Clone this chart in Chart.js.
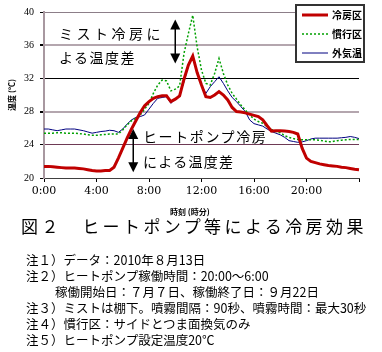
<!DOCTYPE html>
<html lang="ja">
<head>
<meta charset="utf-8">
<title>図２ ヒートポンプ等による冷房効果</title>
<script src="https://cdn.jsdelivr.net/npm/chart.js@4.4.0/dist/chart.umd.min.js"></script>
<style>
  body { margin: 0; background: #fff; }
  #wrap { position: relative; width: 382px; height: 352px; overflow: hidden;
          font-family: "Noto Sans CJK JP", sans-serif; color: #000; }
  #chart { position: absolute; left: 0; top: 0; }
  .ann { position: absolute; font-size: 14px; line-height: 16px; white-space: nowrap; }
  #xtitle { position: absolute; left: 170px; top: 206px; font-size: 8px; font-weight: bold; line-height: 12px; white-space: nowrap; }
  #figtitle { position: absolute; left: 21px; top: 216px; font-size: 17px; line-height: 20px; letter-spacing: 3.4px; white-space: nowrap; }
  #notes { position: absolute; left: 26px; top: 252px; font-size: 12.5px; line-height: 16px; white-space: nowrap; }
  #notes .indent { padding-left: 29px; }
</style>
</head>
<body>
<div id="wrap">
  <canvas id="chart" width="382" height="200"></canvas>
  <div class="ann" style="left:59px;top:25px;letter-spacing:3.5px">ミスト冷房に</div>
  <div class="ann" style="left:59px;top:49px;letter-spacing:1.5px">よる温度差</div>
  <div class="ann" style="left:143px;top:128px;letter-spacing:1.6px">ヒートポンプ冷房</div>
  <div class="ann" style="left:143px;top:153px;letter-spacing:1.3px">による温度差</div>
  <div id="xtitle">時刻 (時分)</div>
  <div id="figtitle">図２　ヒートポンプ等による冷房効果</div>
  <div id="notes">
    <div>注１）データ：2010年８月13日</div>
    <div>注２）ヒートポンプ稼働時間：20:00～6:00</div>
    <div class="indent">稼働開始日：７月７日、稼働終了日：９月22日</div>
    <div>注３）ミストは棚下。噴霧間隔：90秒、噴霧時間：最大30秒</div>
    <div>注４）慣行区：サイドとつま面換気のみ</div>
    <div>注５）ヒートポンプ設定温度20℃</div>
  </div>
</div>
<script>
// 20分ごとの時刻
const times = [
  '0:00','0:20','0:40','1:00','1:20','1:40','2:00','2:20','2:40','3:00','3:20','3:40',
  '4:00','4:20','4:40','5:00','5:20','5:40','6:00','6:20','6:40','7:00','7:20','7:40',
  '8:00','8:20','8:40','9:00','9:20','9:40','10:00','10:20','10:40','11:00','11:20','11:40',
  '12:00','12:20','12:40','13:00','13:20','13:40','14:00','14:20','14:40','15:00','15:20','15:40',
  '16:00','16:20','16:40','17:00','17:20','17:40','18:00','18:20','18:40','19:00','19:20','19:40',
  '20:00','20:20','20:40','21:00','21:20','21:40','22:00','22:20','22:40','23:00','23:20','23:40',
  '24:00'
];

// 冷房区
const reiboTemp = [
  21.4,21.4,21.35,21.3,21.25,21.2,21.2,21.2,21.15,21.1,21.0,20.9,
  20.85,20.85,20.9,20.9,21.3,22.4,23.6,24.8,25.9,26.9,27.9,28.7,
  29.2,29.6,29.8,29.9,29.9,29.2,29.5,29.9,31.9,33.6,34.7,32.7,
  31.2,29.8,29.7,30.0,30.4,30.0,29.4,28.5,28.0,27.95,27.85,27.7,
  27.55,27.4,27.0,26.3,25.65,25.7,25.7,25.65,25.6,25.5,25.3,23.6,
  22.4,22.0,21.85,21.7,21.6,21.5,21.45,21.4,21.3,21.25,21.15,21.05,
  21.0
];

// 慣行区
const kankoTemp = [
  25.4,25.4,25.4,25.45,25.45,25.4,25.4,25.4,25.35,25.3,25.2,25.15,
  25.15,25.2,25.25,25.3,25.3,25.3,25.8,26.4,26.9,27.2,27.6,28.3,
  29.0,30.2,31.2,31.8,31.7,30.5,30.7,31.1,35.0,37.4,39.6,35.8,
  33.0,31.4,31.2,32.6,34.4,32.6,31.2,30.2,29.5,28.8,28.2,27.6,
  27.1,26.8,26.6,26.2,25.85,25.6,25.45,25.1,24.9,24.75,24.65,24.6,
  24.6,24.6,24.6,24.55,24.45,24.35,24.4,24.5,24.55,24.6,24.65,24.65,
  24.65
];

// 外気温
const gaikiTemp = [
  25.9,25.9,25.8,25.7,25.8,25.9,25.9,25.9,25.8,25.7,25.55,25.4,
  25.5,25.6,25.65,25.75,25.7,25.5,25.9,26.5,27.0,27.3,27.4,27.6,
  28.3,29.0,29.6,29.7,29.8,29.0,29.5,30.0,31.6,33.5,34.7,32.7,
  31.2,30.2,31.0,31.6,32.2,31.4,30.5,29.7,29.2,28.6,28.0,27.0,
  26.55,26.4,26.25,25.9,25.6,25.4,25.2,24.9,24.5,24.4,24.3,24.35,
  24.5,24.7,24.8,24.8,24.8,24.8,24.8,24.8,24.85,24.9,25.0,24.9,
  24.75
];

const yTicks = [20, 24, 28, 32, 36, 40];

// 温度差の矢印（時刻[時], 上端, 下端）
const arrows = [
  { hour: 10.0, from: 39.1, to: 33.8 },
  { hour: 6.8, from: 25.9, to: 20.7 }
];

// 横線の見た目
const gridStyle = {
  20: { color: 'rgba(0,0,0,0)', width: 1 },
  24: { color: '#6e3a55', width: 1 },
  28: { color: '#b4a6ae', width: 2 },
  32: { color: '#000000', width: 1 },
  36: { color: '#b4a6ae', width: 2 },
  40: { color: '#8c7e88', width: 1 }
};

const arrowPlugin = {
  id: 'arrows',
  afterDatasetsDraw(chart) {
    const { ctx, scales: { x, y } } = chart;
    ctx.save();
    ctx.strokeStyle = '#000';
    ctx.fillStyle = '#000';
    ctx.lineWidth = 1.5;
    arrows.forEach(a => {
      const px = x.getPixelForValue(a.hour * 3);
      const top = y.getPixelForValue(a.from);
      const bot = y.getPixelForValue(a.to);
      ctx.beginPath();
      ctx.moveTo(px, top + 8);
      ctx.lineTo(px, bot - 8);
      ctx.stroke();
      ctx.beginPath();
      ctx.moveTo(px, top);
      ctx.lineTo(px - 5, top + 10);
      ctx.lineTo(px + 5, top + 10);
      ctx.closePath();
      ctx.fill();
      ctx.beginPath();
      ctx.moveTo(px, bot);
      ctx.lineTo(px - 5, bot - 10);
      ctx.lineTo(px + 5, bot - 10);
      ctx.closePath();
      ctx.fill();
    });
    ctx.restore();
  }
};

const boxLegend = {
  id: 'boxLegend',
  afterDraw(chart) {
    const ctx = chart.ctx;
    ctx.save();
    ctx.fillStyle = '#fff';
    ctx.fillRect(296, 5, 68, 57);
    ctx.strokeStyle = '#333';
    ctx.lineWidth = 2;
    ctx.strokeRect(296, 5, 68, 57);
    chart.data.datasets.forEach((ds, i) => {
      const yy = 15 + i * 19;
      ctx.strokeStyle = ds.borderColor;
      ctx.lineWidth = ds.borderWidth;
      ctx.setLineDash(ds.borderDash || []);
      ctx.beginPath();
      ctx.moveTo(302, yy);
      ctx.lineTo(328, yy);
      ctx.stroke();
      ctx.setLineDash([]);
      ctx.fillStyle = '#000';
      ctx.font = 'bold 10px "Noto Sans CJK JP"';
      ctx.textBaseline = 'middle';
      ctx.fillText(ds.label, 332, yy);
    });
    ctx.restore();
  }
};

new Chart(document.getElementById('chart'), {
  type: 'line',
  data: {
    labels: times,
    datasets: [
      { label: '冷房区', data: reiboTemp, borderColor: '#c00000', borderWidth: 3, pointRadius: 0, tension: 0 },
      { label: '慣行区', data: kankoTemp, borderColor: '#00a000', borderWidth: 1.5, borderDash: [2, 2], pointRadius: 0, tension: 0 },
      { label: '外気温', data: gaikiTemp, borderColor: '#000080', borderWidth: 1, pointRadius: 0, tension: 0 }
    ]
  },
  options: {
    responsive: false,
    animation: false,
    layout: { padding: { top: 9, right: 23, left: 0, bottom: 0 } },
    plugins: {
      legend: { display: false },
      tooltip: { enabled: false }
    },
    scales: {
      x: {
        offset: false,
        afterFit: s => { s.height = 22; },
        ticks: {
          autoSkip: false, maxRotation: 0, minRotation: 0, padding: 3,
          color: '#000', font: { family: 'DejaVu Serif', size: 11 },
          callback: (v, i) => (i % 12 === 0 && i < 72) ? times[i] : ''
        },
        grid: {
          drawOnChartArea: false, drawTicks: true, tickLength: 4,
          tickColor: c => (c.index % 12 === 0 ? '#000' : 'rgba(0,0,0,0)')
        },
        border: { color: '#404040', width: 1 }
      },
      y: {
        min: 20, max: 40,
        afterBuildTicks: s => { s.ticks = yTicks.map(v => ({ value: v })); },
        afterFit: s => { s.width = 44; },
        ticks: { padding: 6, color: '#000', font: { family: 'Liberation Serif', size: 10 } },
        grid: {
          color: c => gridStyle[c.tick.value].color,
          lineWidth: c => gridStyle[c.tick.value].width,
          tickLength: 4, tickColor: '#000'
        },
        border: { color: '#a898a0', width: 2 },
        title: {
          display: true, text: '温度 (℃)', color: '#000',
          font: { family: 'Noto Sans CJK JP', size: 8, weight: 'bold' },
          padding: { top: 7, bottom: 0 }
        }
      }
    }
  },
  plugins: [arrowPlugin, boxLegend]
});
</script>
</body>
</html>
